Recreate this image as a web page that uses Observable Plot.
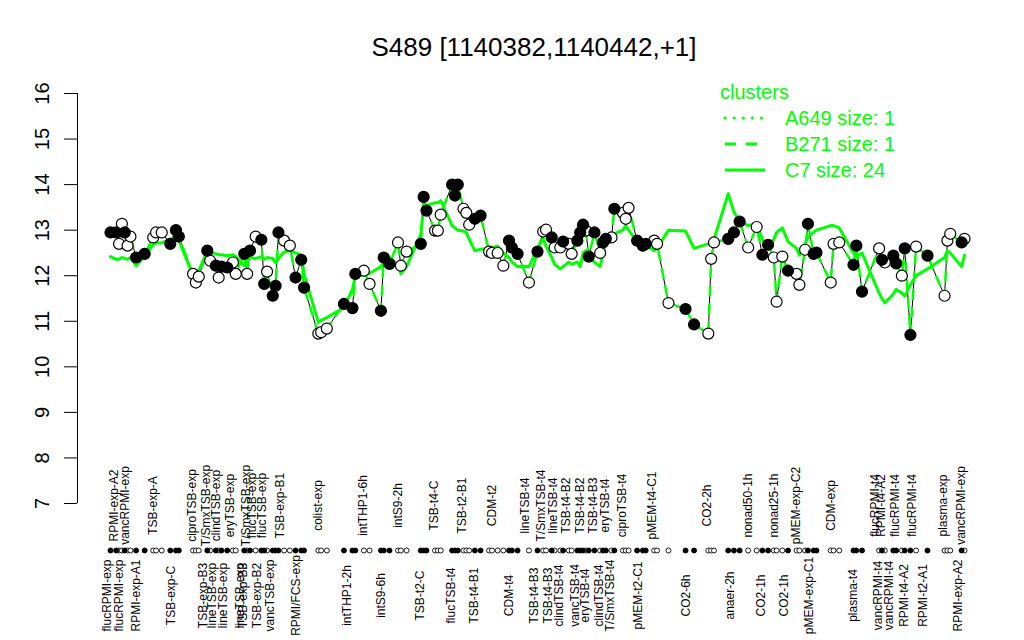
<!DOCTYPE html>
<html><head><meta charset="utf-8">
<script src="https://cdn.jsdelivr.net/npm/d3@7"></script>
<script src="https://cdn.jsdelivr.net/npm/@observablehq/plot@0.6"></script>
<style>
body{margin:0;background:#fff;font-family:"Liberation Sans",Arial,sans-serif;}
#wrap{position:relative;width:1024px;height:640px;overflow:hidden;}
#title{height:62px;box-sizing:border-box;padding-top:34px;padding-left:44px;text-align:center;font-size:26px;line-height:26px;color:#000;}
#chart svg{display:block;}
#legend{position:absolute;left:720px;top:79px;color:#00ff00;font-size:20px;line-height:26px;}
#legend .row{display:flex;align-items:center;height:26px;}
#legend svg{display:block;}
</style></head><body>
<div id="wrap"><div id="title"></div><div id="chart"></div><div id="legend"></div></div>
<script>
const chartTitle = "S489 [1140382,1140442,+1]";
const legendTitle = "clusters";
const clusterNames = ["A649", "B271", "C7"];
const clusterSizes = [1, 1, 24];
const clusterDash = ["0.1,9", "11,10", null];
const yTicks = [7, 8, 9, 10, 11, 12, 13, 14, 15, 16];

const groupNames = ["flucRPMI-exp","RPMI-exp-A2","flucRPMI-exp","vancRPMI-exp","RPMI-exp-A1","TSB-exp-A","TSB-exp-C","ciproTSB-exp","TSB-exp-B3","T/SmxTSB-exp",
"lineTSB-exp","clindTSB-exp","lineTSB-exp","eryTSB-exp","lineTSB-exp","TSB-exp-B3","T/SmxTSB-exp","flucTSB-exp","TSB-exp-B2","flucTSB-exp",
"vancTSB-exp","TSB-exp-B1","RPMI/FCS-exp","colist-exp","intTHP1-2h","intTHP1-6h","intS9-6h","intS9-2h","TSB-t2-C","TSB-t4-C",
"flucTSB-t4","TSB-t2-B1","TSB-t4-B1","CDM-t2","CDM-t4","lineTSB-t4","TSB-t4-B3","T/SmxTSB-t4","TSB-t4-B3","lineTSB-t4",
"clindTSB-t4","TSB-t4-B2","vancTSB-t4","TSB-t4-B2","eryTSB-t4","TSB-t4-B3","clindTSB-t4","eryTSB-t4","T/SmxTSB-t4","ciproTSB-t4",
"pMEM-t2-C1","pMEM-t4-C1","","CO2-6h","CO2-2h","anaer-2h","nonad50-1h","CO2-1h","nonad25-1h","CO2-1h",
"pMEM-exp-C2","pMEM-exp-C1","CDM-exp","plasma-t4","flucRPMI-t4","vancRPMI-t4","RPMI-t4-A2","vancRPMI-t4","flucRPMI-t4","RPMI-t4-A2",
"flucRPMI-t4","RPMI-t2-A1","plasma-exp","RPMI-exp-A2","vancRPMI-exp"];
const groupSizes = [1,2,2,2,2,3,3,3,1,1, 1,2,1,2,1,1,1,1,1,2, 2,3,3,3,3,2,3,3,3,3, 3,3,2,4,3,1,1,2,1,2, 1,2,2,2,1,2,1,2,1,3, 3,2,1,2,3,3,2,2,3,1, 3,3,3,3,1,1,1,1,2,2, 1,1,3,1,1];
const labelSide = ["B","T","B","T","B","T","B","T","B","T", "B","T","B","T","B","B","T","T","B","T", "B","T","B","T","B","T","B","T","B","T",
"B","T","B","T","B","T","B","T","B","T", "B","T","B","T","B","T","B","T","B","T", "B","T","","B","T","B","T","B","T","B",
"T","B","T","B","T","B","T","B","T","B", "T","B","T","B","T"];

const sampleSlot = [0,2,3,4,5,6,7,9,12,15, 16,18,21,23,24,29,30,31,34,35, 37,38,39,41,43,44,47,48,49,51, 53,54,55,57,58,59,61,63,65,67,
68,73,74,76,82,85,86,89,91,95, 96,98,101,102,104,109,110,111,114,115, 116,120,121,122,124,125,126,128,130,133, 134,136,138,140,141,143,147,150,152,153,
155,156,158,159,161,162,164,165,166,167, 168,170,172,173,174,176,177,180,181,182, 185,187,188,191,192,196,202,205,210,211, 212,217,219,221,224,227,229,231,233,234,
236,238,241,242,244,245,247,248,253,254, 256,261,262,264,270,271,272,275,276,278, 279,281,283,287,293,294,295,299,300];
const expression = [12.95,12.95,12.7,13.14,12.95,12.66,12.86,12.4,12.48,12.84,
12.95,12.95,12.7,13.0,12.86,12.04,11.85,11.98,12.55,12.33,
12.22,11.96,12.2,12.18,12.29,12.04,12.48,12.04,12.55,12.86,
12.79,11.82,12.09,11.56,11.78,12.95,12.77,12.66,11.96,12.35,
11.74,10.73,10.76,10.84,11.38,11.29,12.04,12.11,11.82,11.23,
12.4,12.26,12.73,12.22,12.53,12.7,13.73,13.43,12.99,12.99,
13.34,14.0,13.76,14.0,13.47,13.38,13.12,13.25,13.32,12.53,
12.5,12.5,12.22,12.77,12.62,12.48,11.85,12.53,12.97,13.01,
12.84,12.62,12.62,12.75,12.7,12.48,12.77,12.95,13.12,12.99,
12.42,12.95,12.5,12.73,12.81,12.84,13.47,13.38,13.25,13.49,
12.77,12.66,12.7,12.77,12.7,11.4,11.27,10.93,10.73,12.37,
12.73,12.81,12.95,13.19,12.62,13.07,12.46,12.68,12.4,11.43,
12.42,12.11,12.04,11.8,12.57,13.14,12.48,12.51,11.85,12.7,
12.73,12.24,12.66,11.65,12.6,12.35,12.29,12.44,12.27,12.0,
12.6,10.7,12.64,12.44,11.56,12.77,12.92,12.73,12.81];
const filledPoint = [1,1,0,0,1,0,0,1,1,0, 0,0,1,1,1,0,0,0,1,0, 1,0,1,1,0,0,1,0,1,0, 1,1,0,1,1,1,0,0,1,1,
1,0,0,0,1,1,1,0,0,1, 1,1,0,0,0,1,1,1,0,0, 0,1,1,1,0,0,0,1,1,0, 0,0,0,1,1,1,0,1,0,0,
1,0,0,1,0,0,1,1,1,0, 1,1,0,1,1,0,1,0,0,0, 1,1,1,0,0,0,1,1,0,0, 0,1,1,1,0,0,1,1,0,0,
0,1,0,0,0,1,1,1,0,0, 0,1,1,1,0,1,0,1,1,0, 1,1,0,1,0,0,0,1,0];
const c7Profile = [12.42,12.36,12.36,12.4,12.38,12.36,12.4,12.22,12.44,12.68,
12.72,12.72,12.8,12.85,12.78,12.0,11.98,12.1,12.55,12.52,
12.48,12.46,12.46,12.44,12.46,12.42,12.22,12.3,12.4,12.38,
12.42,12.36,12.4,12.38,12.28,12.38,12.52,12.55,12.5,12.45,
12.04,10.98,11.02,11.08,11.3,11.7,12.0,12.02,12.05,12.2,
12.3,12.4,12.25,12.04,12.2,12.9,13.55,13.55,13.6,13.6,
13.65,13.1,13.05,13.0,12.98,12.95,12.8,12.55,12.58,12.6,
12.62,12.65,12.5,12.4,12.3,12.2,12.2,12.6,12.82,12.65,
12.4,12.25,12.15,12.2,12.3,12.25,12.3,12.2,12.5,12.55,
12.4,12.3,12.2,12.5,12.7,12.8,12.92,13.0,13.1,13.0,
12.75,12.7,12.68,12.55,12.6,13.0,12.98,12.6,12.7,12.75,
12.8,13.8,13.4,13.2,13.1,13.15,12.8,12.6,12.8,12.95,
13.05,12.75,12.6,12.45,12.7,12.85,12.95,13.0,13.1,13.1,
13.05,12.5,12.4,12.5,11.62,11.5,11.4,11.6,11.7,11.62,
11.55,11.8,12.0,12.15,12.4,12.55,12.5,12.2,12.45];

const GREEN = "#00ff00";
const FONT = "'Liberation Sans', Arial, Helvetica, sans-serif";

document.getElementById("title").textContent = chartTitle;

const data = sampleSlot.map((s, i) => ({slot: s, v: expression[i], filled: filledPoint[i] === 1, c7: c7Profile[i]}));
const labels = [];
let k = 0;
groupNames.forEach((name, g) => {
  const members = data.slice(k, k + groupSizes[g]);
  k += groupSizes[g];
  if (name) labels.push({name, slot: d3.mean(members, d => d.slot), side: labelSide[g]});
});

const plot = Plot.plot({
  width: 1024, height: 578,
  marginTop: 31, marginBottom: 137, marginLeft: 77, marginRight: 60,
  style: {fontFamily: FONT, background: "white", color: "black"},
  x: {domain: [0, 300], insetLeft: 33, axis: null},
  y: {domain: [7, 16], axis: null},
  marks: [
    Plot.ruleX([0], {y1: 7, y2: 16, dx: -33, stroke: "black", strokeWidth: 1}),
    Plot.axisY({ticks: yTicks, tickSize: 13, tickRotate: -90, tickPadding: 16, fontSize: 20, label: null, stroke: "black"}),
    Plot.line(data, {x: "slot", y: "v", stroke: "black", strokeWidth: 1}),
    Plot.line(data, {x: "slot", y: "v", stroke: GREEN, strokeWidth: 2.5, strokeDasharray: "9,9"}),
    Plot.line(data, {x: "slot", y: "c7", stroke: GREEN, strokeWidth: 3}),
    Plot.dot(data.filter(d => !d.filled), {x: "slot", y: "v", r: 5.5, fill: "white", stroke: "black", strokeWidth: 1.2}),
    Plot.dot(data.filter(d => d.filled), {x: "slot", y: "v", r: 5.5, fill: "black", stroke: "black", strokeWidth: 1.2}),
    Plot.dot(data.filter(d => !d.filled), {x: "slot", frameAnchor: "bottom", dy: 47, r: 2.5, fill: "white", stroke: "black", strokeWidth: 0.9}),
    Plot.dot(data.filter(d => d.filled), {x: "slot", frameAnchor: "bottom", dy: 47, r: 2.5, fill: "black", stroke: "black", strokeWidth: 0.9}),
    Plot.text(labels.filter(d => d.side === "T"), {x: "slot", text: "name", frameAnchor: "bottom", dy: 2, rotate: -90, fontSize: 12, fill: "black"}),
    Plot.text(labels.filter(d => d.side === "B"), {x: "slot", text: "name", frameAnchor: "bottom", dy: 92, rotate: -90, fontSize: 12, fill: "black"})
  ]
});
document.getElementById("chart").appendChild(plot);

// legend
const legend = document.getElementById("legend");
const head = document.createElement("div");
head.className = "row";
head.textContent = legendTitle;
legend.appendChild(head);
clusterNames.forEach((name, i) => {
  const row = document.createElement("div");
  row.className = "row";
  const dash = clusterDash[i] ? `stroke-dasharray="${clusterDash[i]}"` : "";
  const cap = i === 0 ? `stroke-linecap="round"` : "";
  row.innerHTML = `<svg width="65" height="26"><line x1="5" x2="45" y1="13" y2="13" stroke="${GREEN}" stroke-width="3" ${dash} ${cap}></line></svg><span>${name} size: ${clusterSizes[i]}</span>`;
  legend.appendChild(row);
});
</script>
</body></html>
